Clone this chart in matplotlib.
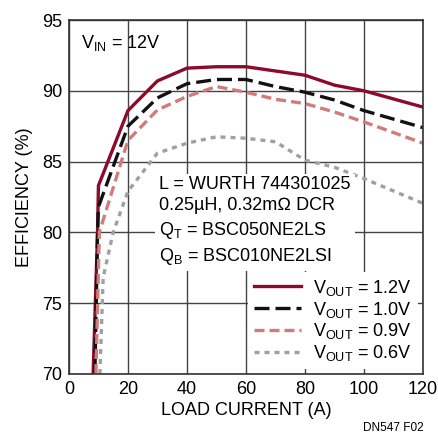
import matplotlib
matplotlib.use("Agg")
import matplotlib.pyplot as plt
from matplotlib import font_manager

names = {f.name for f in font_manager.fontManager.ttflist}
fam = "Liberation Sans Narrow" if "Liberation Sans Narrow" in names else "Liberation Sans"
plt.rcParams["font.family"] = [fam, "DejaVu Sans"]
plt.rcParams["mathtext.fontset"] = "custom"
plt.rcParams["mathtext.rm"] = fam
plt.rcParams["mathtext.it"] = fam

# data
i_12 = [8.2, 9.7, 10, 20, 30, 40, 50, 60, 70, 80, 90, 100, 120]
eff_12 = [70, 80, 83.3, 88.6, 90.7, 91.6, 91.7, 91.7, 91.4, 91.1, 90.4, 90.0, 88.85]
i_10 = [8.8, 9.7, 10, 20, 30, 40, 50, 60, 70, 80, 90, 100, 120]
eff_10 = [70, 80, 81.8, 87.5, 89.5, 90.5, 90.8, 90.8, 90.3, 89.9, 89.35, 88.6, 87.4]
i_09 = [9.15, 10.3, 20, 30, 40, 50, 60, 70, 80, 90, 100, 120]
eff_09 = [70, 80, 86.5, 88.65, 89.6, 90.3, 89.9, 89.4, 89.1, 88.5, 87.8, 86.3]
i_06 = [10.5, 11.6, 15, 20, 30, 40, 50, 60, 70, 80, 90, 100, 120]
eff_06 = [70, 76.8, 80, 82.9, 85.6, 86.3, 86.75, 86.65, 86.4, 85.1, 84.6, 83.8, 82.05]

labels = ["1.2V", "1.0V", "0.9V", "0.6V"]

fig = plt.figure(figsize=(4.39, 4.41), dpi=100)
ax = fig.add_axes([0.157, 0.152, 0.8066, 0.8026])

ax.plot(i_12, eff_12, color="#8c0a2c", lw=2.4, label=r"V$_{\mathrm{OUT}}$ = " + labels[0])
ax.plot(i_10, eff_10, color="#111111", lw=2.4, dashes=(4.5, 1.8), label=r"V$_{\mathrm{OUT}}$ = " + labels[1])
ax.plot(i_09, eff_09, color="#d07c78", lw=2.4, dashes=(3, 1.5), label=r"V$_{\mathrm{OUT}}$ = " + labels[2])
ax.plot(i_06, eff_06, color="#a0a0a4", lw=2.4, dashes=(1.5, 1.5), label=r"V$_{\mathrm{OUT}}$ = " + labels[3])

ax.set_xlim(0, 120)
ax.set_ylim(70, 95)
ax.set_xticks(range(0, 121, 20))
ax.set_yticks(range(70, 96, 5))
ax.tick_params(length=0, labelsize=13, pad=5)
ax.grid(True, color="#444444", lw=1)
ax.set_axisbelow(True)
for s in ax.spines.values():
    s.set_color("#333333")
    s.set_linewidth(1.2)

ax.set_xlabel("LOAD CURRENT (A)", fontsize=13, labelpad=3)
ax.set_ylabel("EFFICIENCY (%)", fontsize=13, labelpad=6)

ax.text(4.2, 93.4, r"V$_{\mathrm{IN}}$ = 12V", fontsize=13, va="center")
note = ("L = WURTH 744301025\n0.25\u00b5H, 0.32m\u2126 DCR\n"
        r"Q$_{\mathrm{T}}$ = BSC050NE2LS" + "\n" + r"Q$_{\mathrm{B}}$ = BSC010NE2LSI")
ax.text(30.5, 84.0, note, fontsize=13, va="top", linespacing=1.35,
        bbox=dict(facecolor="white", edgecolor="none", pad=3))

leg = ax.legend(loc="lower right", fontsize=13, frameon=True, handlelength=2.6,
                labelspacing=0.1, borderaxespad=0.3, handletextpad=0.7, borderpad=0.3)
leg.get_frame().set_edgecolor("none")
leg.get_frame().set_alpha(1)

fig.text(0.965, 0.015, "DN547 F02", fontsize=8.5, ha="right", va="bottom")

fig.savefig("out.png", dpi=100)
